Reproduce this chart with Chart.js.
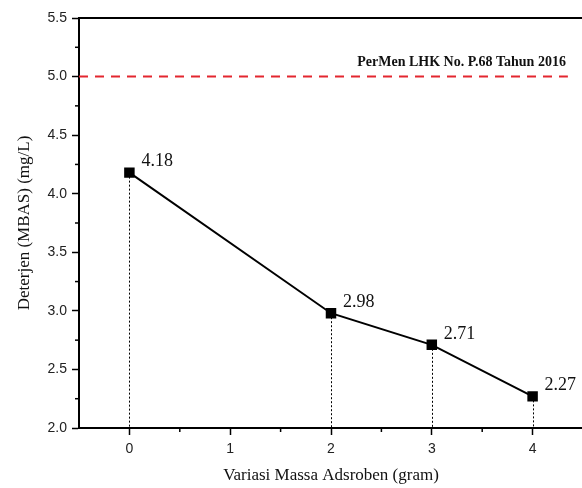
<!DOCTYPE html>
<html>
<head>
<meta charset="utf-8">
<script src="https://cdn.jsdelivr.net/npm/chart.js@4/dist/chart.umd.min.js"></script>
<style>
  html, body { margin: 0; padding: 0; background: #fff; overflow: hidden; }
  #wrap { width: 591px; height: 488px; }
</style>
</head>
<body>
<div id="wrap"><canvas id="myGraph"></canvas></div>
<script>
// data
const massa = [0, 2, 3, 4];
const deterjen = [4.18, 2.98, 2.71, 2.27];
const bakuMutu = 5.0;
const bakuMutuX = [-0.5, 4.35];
const bakuMutuLabel = "PerMen LHK No. P.68 Tahun 2016";
const xTicks = [0, 1, 2, 3, 4];
const yTicks = [2.0, 2.5, 3.0, 3.5, 4.0, 4.5, 5.0, 5.5];

const serif = "'Liberation Serif', 'Times New Roman', serif";
const sans = "'Liberation Sans', Arial, sans-serif";

const isMajorX = v => xTicks.some(t => Math.abs(t - v) < 1e-6);
const isMajorY = v => yTicks.some(t => Math.abs(t - v) < 1e-6);

// dotted drop lines, minor ticks, point labels, frame
const extras = {
   id: "extras",
   beforeDatasetsDraw(chart) {
      const { ctx, scales: { x, y } } = chart;
      ctx.save();
      ctx.strokeStyle = "#000";
      ctx.lineWidth = 1;
      ctx.setLineDash([2, 2]);
      massa.forEach((m, i) => {
         const px = Math.round(x.getPixelForValue(m)) + 0.5;
         ctx.beginPath();
         ctx.moveTo(px, y.getPixelForValue(deterjen[i]));
         ctx.lineTo(px, y.bottom);
         ctx.stroke();
      });
      ctx.restore();
   },
   afterDatasetsDraw(chart) {
      const { ctx, chartArea, scales: { x, y } } = chart;
      ctx.save();
      // top frame line
      ctx.strokeStyle = "#000";
      ctx.lineWidth = 2;
      ctx.beginPath();
      ctx.moveTo(chartArea.left, chartArea.top);
      ctx.lineTo(chartArea.right, chartArea.top);
      ctx.stroke();

      // minor ticks
      ctx.lineWidth = 1.5;
      x.ticks.forEach(t => {
         if (isMajorX(t.value) || t.value <= x.min || t.value >= x.max) return;
         const px = x.getPixelForValue(t.value);
         ctx.beginPath();
         ctx.moveTo(px, chartArea.bottom);
         ctx.lineTo(px, chartArea.bottom + 4);
         ctx.stroke();
      });
      y.ticks.forEach(t => {
         if (isMajorY(t.value)) return;
         const py = y.getPixelForValue(t.value);
         ctx.beginPath();
         ctx.moveTo(chartArea.left, py);
         ctx.lineTo(chartArea.left - 4, py);
         ctx.stroke();
      });

      // value labels
      ctx.fillStyle = "#111";
      ctx.font = "18px " + serif;
      ctx.textAlign = "left";
      ctx.textBaseline = "middle";
      massa.forEach((m, i) => {
         ctx.fillText(deterjen[i].toFixed(2),
            x.getPixelForValue(m) + 12, y.getPixelForValue(deterjen[i]) - 11);
      });

      // standard label
      ctx.font = "bold 14px " + serif;
      ctx.textAlign = "right";
      ctx.fillText(bakuMutuLabel,
         x.getPixelForValue(bakuMutuX[1]) - 2, y.getPixelForValue(bakuMutu) - 14);
      ctx.restore();
   }
};

let chart = new Chart(document.querySelector("#myGraph").getContext("2d"), {
   type: "scatter",
   data: {
      datasets: [
         {
            label: "Deterjen",
            data: massa.map((m, i) => ({ x: m, y: deterjen[i] })),
            showLine: true,
            borderColor: "#000",
            backgroundColor: "#000",
            borderWidth: 2,
            pointStyle: "rect",
            pointRadius: 6,
            pointHoverRadius: 6
         },
         {
            label: bakuMutuLabel,
            data: bakuMutuX.map(v => ({ x: v, y: bakuMutu })),
            showLine: true,
            borderColor: "#e3262f",
            borderWidth: 2,
            borderDash: [9, 7],
            pointRadius: 0
         }
      ]
   },
   plugins: [extras],
   options: {
      responsive: true,
      maintainAspectRatio: false,
      animation: false,
      layout: { padding: { top: 18, right: 0, left: 0, bottom: 0 } },
      plugins: {
         legend: { display: false },
         tooltip: { enabled: false }
      },
      scales: {
         x: {
            type: "linear",
            min: -0.5,
            max: 4.5,
            afterFit: s => { s.height = 60; },
            grid: {
               drawOnChartArea: false,
               tickLength: 7,
               tickWidth: 1.5,
               tickColor: c => (c.tick && isMajorX(c.tick.value)) ? "#000" : "rgba(0,0,0,0)"
            },
            border: { color: "#000", width: 2 },
            ticks: {
               stepSize: 0.5,
               padding: 6,
               color: "#222",
               font: { family: sans, size: 14 },
               callback: v => isMajorX(v) ? String(v) : ""
            },
            title: {
               display: true,
               text: "Variasi Massa Adsroben (gram)",
               color: "#111",
               font: { family: serif, size: 17 },
               padding: { top: 0, bottom: 2 }
            }
         },
         y: {
            min: 2.0,
            max: 5.5,
            afterFit: s => { s.width = 79; },
            grid: {
               drawOnChartArea: false,
               tickLength: 7,
               tickWidth: 1.5,
               tickColor: c => (c.tick && isMajorY(c.tick.value)) ? "#000" : "rgba(0,0,0,0)"
            },
            border: { color: "#000", width: 2 },
            ticks: {
               stepSize: 0.25,
               padding: 5,
               color: "#222",
               font: { family: sans, size: 14 },
               callback: v => isMajorY(v) ? v.toFixed(1) : ""
            },
            title: {
               display: true,
               text: "Deterjen (MBAS) (mg/L)",
               color: "#111",
               font: { family: serif, size: 17 },
               padding: { top: 14, bottom: 0 }
            }
         }
      }
   }
});
</script>
</body>
</html>
